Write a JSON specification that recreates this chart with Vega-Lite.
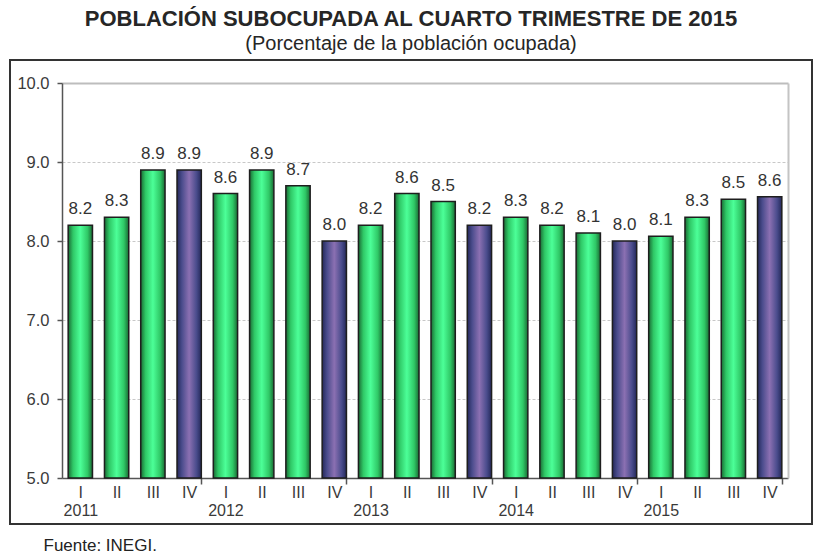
{
  "$schema": "https://vega.github.io/schema/vega-lite/v6.json",
  "autosize": "none",
  "width": 802,
  "height": 464,
  "padding": {"left": 10, "top": 60, "right": 8, "bottom": 36},
  "background": "white",
  "title": {
    "text": "POBLACIÓN SUBOCUPADA AL CUARTO TRIMESTRE DE 2015",
    "subtitle": "(Porcentaje de la población ocupada)",
    "anchor": "middle",
    "font": "Liberation Sans",
    "fontSize": 22,
    "fontWeight": "bold",
    "color": "#262626",
    "subtitleFont": "Liberation Sans",
    "subtitleFontSize": 20,
    "subtitleColor": "#262626",
    "subtitlePadding": 3,
    "offset": 5
  },
  "data": {
    "values": [
      {"periodo": "2011-I", "anio": "2011", "trimestre": "I", "valor": 8.2},
      {"periodo": "2011-II", "anio": "2011", "trimestre": "II", "valor": 8.3},
      {"periodo": "2011-III", "anio": "2011", "trimestre": "III", "valor": 8.9},
      {"periodo": "2011-IV", "anio": "2011", "trimestre": "IV", "valor": 8.9},
      {"periodo": "2012-I", "anio": "2012", "trimestre": "I", "valor": 8.6},
      {"periodo": "2012-II", "anio": "2012", "trimestre": "II", "valor": 8.9},
      {"periodo": "2012-III", "anio": "2012", "trimestre": "III", "valor": 8.7},
      {"periodo": "2012-IV", "anio": "2012", "trimestre": "IV", "valor": 8.0},
      {"periodo": "2013-I", "anio": "2013", "trimestre": "I", "valor": 8.2},
      {"periodo": "2013-II", "anio": "2013", "trimestre": "II", "valor": 8.6},
      {"periodo": "2013-III", "anio": "2013", "trimestre": "III", "valor": 8.5},
      {"periodo": "2013-IV", "anio": "2013", "trimestre": "IV", "valor": 8.2},
      {"periodo": "2014-I", "anio": "2014", "trimestre": "I", "valor": 8.3},
      {"periodo": "2014-II", "anio": "2014", "trimestre": "II", "valor": 8.2},
      {"periodo": "2014-III", "anio": "2014", "trimestre": "III", "valor": 8.1},
      {"periodo": "2014-IV", "anio": "2014", "trimestre": "IV", "valor": 8.0},
      {"periodo": "2015-I", "anio": "2015", "trimestre": "I", "valor": 8.06},
      {"periodo": "2015-II", "anio": "2015", "trimestre": "II", "valor": 8.3},
      {"periodo": "2015-III", "anio": "2015", "trimestre": "III", "valor": 8.53},
      {"periodo": "2015-IV", "anio": "2015", "trimestre": "IV", "valor": 8.56}
    ]
  },
  "encoding": {
    "x": {
      "field": "periodo",
      "type": "nominal",
      "sort": null,
      "scale": {"range": [52, 778], "paddingInner": 0.33, "paddingOuter": 0.17},
      "axis": {
        "title": "Fuente: INEGI.",
        "titleFont": "Liberation Sans",
        "titleFontSize": 17,
        "titleFontWeight": "normal",
        "titleColor": "#222",
        "titleAnchor": "start",
        "titleAlign": "left",
        "titleBaseline": "middle",
        "titleX": 33,
        "titleY": 67,
        "offset": -46,
        "labelAngle": 0,
        "labelFont": "Liberation Sans",
        "labelFontSize": 16,
        "labelColor": "#3a3a3a",
        "labelLineHeight": 18,
        "labelPadding": 0,
        "labelExpr": "split(datum.value,'-')[1] == 'I' ? [split(datum.value,'-')[1], split(datum.value,'-')[0]] : split(datum.value,'-')[1]",
        "domainColor": "#555",
        "domainWidth": 1.5,
        "tickBand": "extent",
        "tickSize": 6,
        "tickColor": "#555",
        "tickWidth": 1.5,
        "tickOpacity": {"condition": {"test": "split(datum.value,'-')[1] == 'IV'", "value": 1}, "value": 0},
        "grid": false
      }
    }
  },
  "layer": [
    {
      "mark": {"type": "bar", "stroke": "#1e1e1e", "strokeWidth": 1.5},
      "encoding": {
        "y": {
          "field": "valor",
          "type": "quantitative",
          "scale": {"domain": [5, 10], "range": [418, 23], "zero": false, "nice": false},
          "axis": {
            "title": null,
            "orient": "left",
            "offset": -52,
            "values": [5, 6, 7, 8, 9, 10],
            "format": ".1f",
            "labelFont": "Liberation Sans",
            "labelFontSize": 16.5,
            "labelColor": "#3a3a3a",
            "labelPadding": 8,
            "tickSize": 5,
            "tickColor": "#555",
            "tickWidth": 1.5,
            "domainColor": "#555",
            "domainWidth": 1.5,
            "grid": true,
            "gridColor": {"condition": {"test": "datum.value == 10", "value": "#bdbdbd"}, "value": "#c8c8c8"},
            "gridWidth": {"condition": {"test": "datum.value == 10", "value": 2}, "value": 1},
            "gridDash": {"condition": {"test": "datum.value == 10", "value": []}, "value": [3, 2]}
          }
        },
        "y2": {"datum": 5},
        "fill": {
          "condition": {
            "test": "datum.trimestre == 'IV'",
            "value": {
              "gradient": "linear", "x1": 0, "x2": 1, "y1": 0, "y2": 0,
              "stops": [
                {"offset": 0, "color": "#24285a"},
                {"offset": 0.2, "color": "#4a4c8c"},
                {"offset": 0.5, "color": "#8b70b2"},
                {"offset": 0.8, "color": "#4a4c8c"},
                {"offset": 1, "color": "#24285a"}
              ]
            }
          },
          "value": {
            "gradient": "linear", "x1": 0, "x2": 1, "y1": 0, "y2": 0,
            "stops": [
              {"offset": 0, "color": "#1a6a34"},
              {"offset": 0.2, "color": "#2fc866"},
              {"offset": 0.5, "color": "#4cff98"},
              {"offset": 0.8, "color": "#2fc866"},
              {"offset": 1, "color": "#1a6a34"}
            ]
          }
        }
      }
    },
    {
      "mark": {"type": "text", "baseline": "bottom", "dy": -7, "font": "Liberation Sans", "fontSize": 17, "color": "#333"},
      "encoding": {
        "y": {
          "field": "valor",
          "type": "quantitative",
          "scale": {"domain": [5, 10], "range": [418, 23], "zero": false, "nice": false},
          "axis": {
            "title": null,
            "orient": "right",
            "offset": -24,
            "labels": false,
            "ticks": false,
            "grid": false,
            "domainColor": "#c4c4c4",
            "domainWidth": 2
          }
        },
        "text": {"field": "valor", "type": "quantitative", "format": ".1f"}
      }
    }
  ],
  "resolve": {"scale": {"y": "independent"}, "axis": {"y": "independent"}},
  "config": {
    "view": {"stroke": "#333", "strokeWidth": 2},
    "axis": {"labelOverlap": false}
  }
}
